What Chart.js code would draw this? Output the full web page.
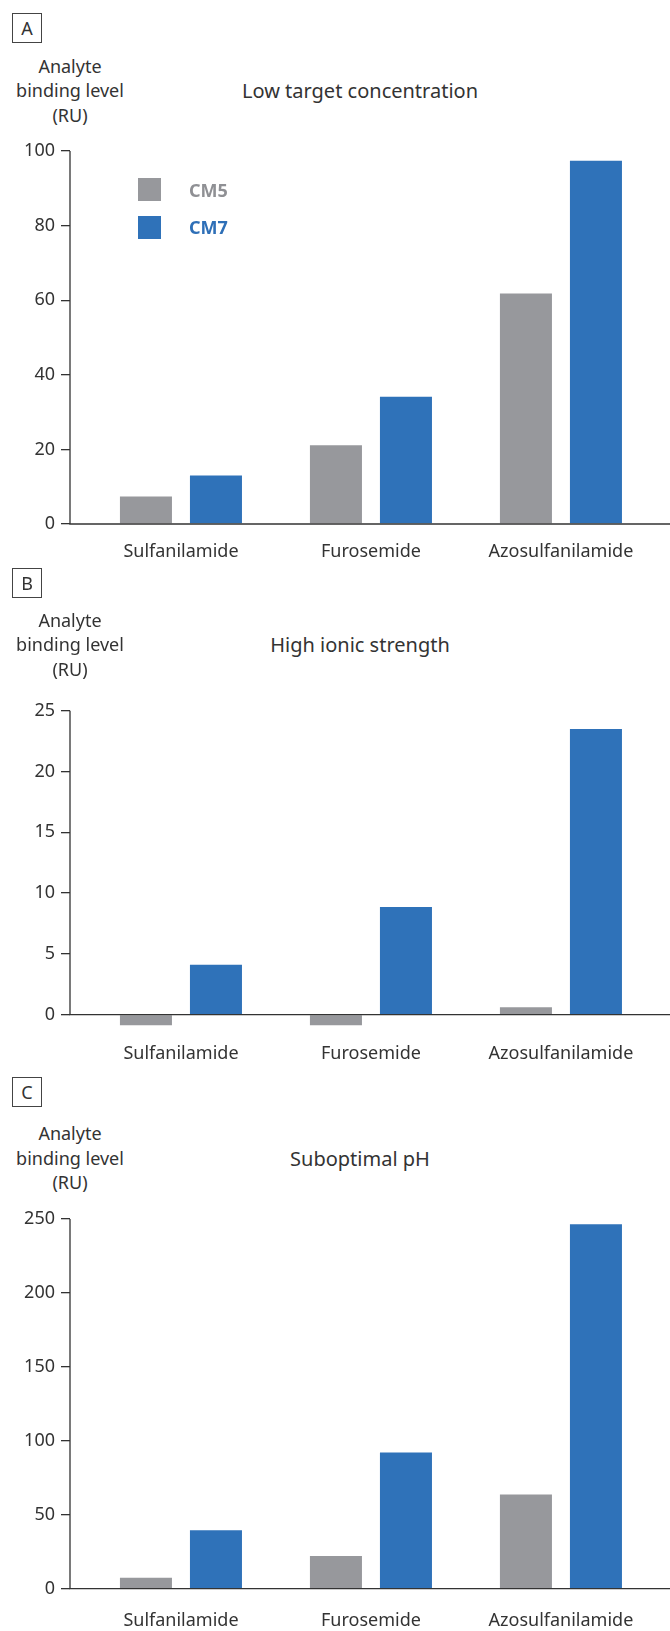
<!DOCTYPE html>
<html>
<head>
<meta charset="utf-8">
<script src="https://cdn.jsdelivr.net/npm/chart.js@4.4.1/dist/chart.umd.min.js"></script>
<style>
    body { margin: 0; background: #fff; font-family: "Noto Sans", sans-serif; color: #333; }
    #page { position: relative; width: 670px; height: 1631px; overflow: hidden; }
    canvas { position: absolute; left: 0; }
    .panel { position: absolute; left: 12px; width: 30px; height: 30px; box-sizing: border-box;
             border: 1px solid #444; font-size: 18px; line-height: 28px; text-align: center; }
    .ytitle { position: absolute; left: 0; width: 140px; text-align: center; font-size: 18px; line-height: 24.5px; }
    .title { position: absolute; left: 160px; width: 400px; text-align: center; font-size: 20px; line-height: 28px; }
    .swatch { position: absolute; left: 138px; width: 23px; height: 23px; }
    .legtext { position: absolute; left: 189px; font-size: 18px; font-weight: bold; line-height: 24px; }
</style>
</head>
<body>
<div id="page">
    <div class="panel" style="top:13px">A</div>
    <div class="ytitle" style="top:53.5px">Analyte<br>binding level<br>(RU)</div>
    <div class="title" style="top:76.5px">Low target concentration</div>
    <canvas id="chartA" width="670" height="440" style="top:130px"></canvas>
    <div class="swatch" style="top:178px;background:#97989c"></div>
    <div class="legtext" style="top:177.7px;color:#8f9094">CM5</div>
    <div class="swatch" style="top:216px;background:#2f72b9"></div>
    <div class="legtext" style="top:215.3px;color:#2e6fb7">CM7</div>

    <div class="panel" style="top:568px">B</div>
    <div class="ytitle" style="top:607.5px">Analyte<br>binding level<br>(RU)</div>
    <div class="title" style="top:630.8px">High ionic strength</div>
    <canvas id="chartB" width="670" height="380" style="top:690px"></canvas>

    <div class="panel" style="top:1077px">C</div>
    <div class="ytitle" style="top:1121px">Analyte<br>binding level<br>(RU)</div>
    <div class="title" style="top:1144.8px">Suboptimal pH</div>
    <canvas id="chartC" width="670" height="431" style="top:1200px"></canvas>
</div>
<script>
const categories = ['Sulfanilamide', 'Furosemide', 'Azosulfanilamide'];

// A: low target concentration
const lowTargetCM5 = [7.4, 21.1, 61.8];
const lowTargetCM7 = [13.0, 34.1, 97.4];
const lowTargetTicks = [0, 20, 40, 60, 80, 100];

// B: high ionic strength
const ionicCM5 = [-0.9, -0.9, 0.6];
const ionicCM7 = [4.1, 8.85, 23.5];
const ionicTicks = [0, 5, 10, 15, 20, 25];

// C: suboptimal pH
const phCM5 = [7.4, 22.1, 63.7];
const phCM7 = [39.6, 92.1, 246.5];
const phTicks = [0, 50, 100, 150, 200, 250];

const axisColor = '#333333';
const grayBar = '#97989c';
const blueBar = '#2f72b9';

Chart.defaults.font.family = '"Noto Sans", sans-serif';

// y axis line only from the top down to zero, plus the zero line over the bars
const zeroAxis = {
    id: 'zeroAxis',
    afterDatasetsDraw(chart) {
        const { ctx, chartArea, scales: { y } } = chart;
        const zero = y.getPixelForValue(0);
        ctx.save();
        ctx.strokeStyle = axisColor;
        ctx.lineWidth = 1.3;
        ctx.beginPath();
        ctx.moveTo(chartArea.left, y.getPixelForValue(y.max));
        ctx.lineTo(chartArea.left, zero);
        ctx.lineTo(chartArea.right, zero);
        ctx.stroke();
        ctx.restore();
    }
};

function makeChart(id, cm5, cm7, yMin, yMax, yTicks, padTop, xHeight, labelPad) {
    const toPoints = vals => vals.map((v, i) => ({ x: i, y: v }));
    const barOpts = { categoryPercentage: 0.737, barPercentage: 0.743, borderWidth: 0 };
    return new Chart(document.getElementById(id), {
        type: 'bar',
        data: {
            datasets: [
                { label: 'CM5', data: toPoints(cm5), backgroundColor: grayBar, ...barOpts },
                { label: 'CM7', data: toPoints(cm7), backgroundColor: blueBar, ...barOpts }
            ]
        },
        options: {
            responsive: false,
            animation: false,
            layout: { padding: { top: padTop, left: 0, right: 0, bottom: 0 } },
            plugins: { legend: { display: false }, tooltip: { enabled: false } },
            scales: {
                x: {
                    type: 'linear',
                    offset: false,
                    min: -0.584,
                    max: 2.574,
                    afterBuildTicks: s => { s.ticks = categories.map((c, i) => ({ value: i })); },
                    afterFit: s => { s.height = xHeight; },
                    grid: { display: false, drawTicks: false, offset: false },
                    border: { display: false },
                    ticks: {
                        callback: v => categories[v],
                        padding: labelPad,
                        color: axisColor,
                        font: { size: 18 },
                        maxRotation: 0,
                        autoSkip: false
                    }
                },
                y: {
                    min: yMin,
                    max: yMax,
                    afterBuildTicks: s => { s.ticks = yTicks.map(v => ({ value: v })); },
                    afterFit: s => { s.width = 70; },
                    grid: { drawOnChartArea: false, tickColor: axisColor, tickLength: 9, lineWidth: 1.3 },
                    border: { display: false },
                    ticks: { padding: 6, color: axisColor, font: { size: 18 } }
                }
            }
        },
        plugins: [zeroAxis]
    });
}

makeChart('chartA', lowTargetCM5, lowTargetCM7, 0, 100, lowTargetTicks, 21, 46, 17);
makeChart('chartB', ionicCM5, ionicCM7, -0.9, 25, ionicTicks, 20.7, 44.4, 17);
makeChart('chartC', phCM5, phCM7, 0, 250, phTicks, 19, 42.3, 21);
</script>
</body>
</html>
